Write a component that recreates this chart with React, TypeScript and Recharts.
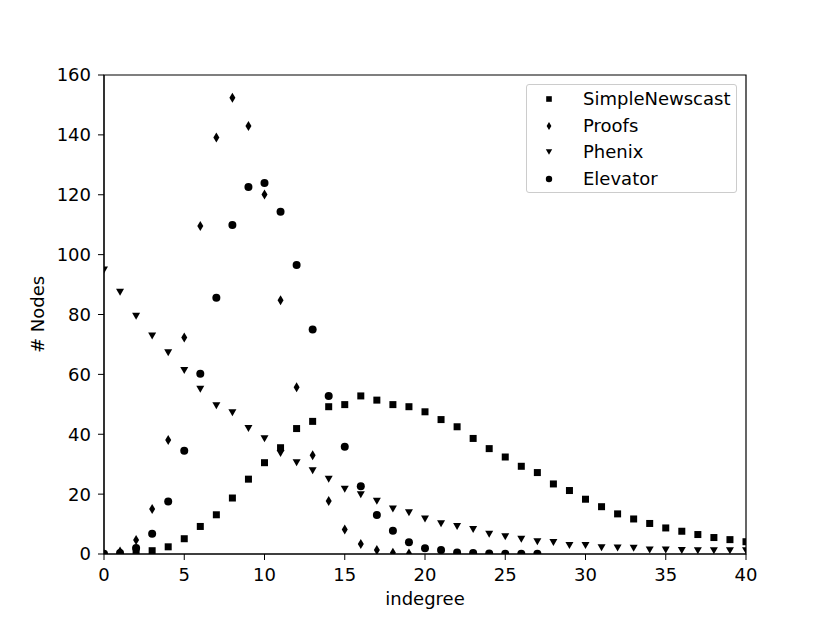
import React from 'react';
import { ScatterChart, Scatter, XAxis, YAxis, ReferenceArea } from 'recharts';

// indegree categories (x values)
const indegree = [
  0, 1, 2, 3, 4, 5, 6, 7, 8, 9, 10, 11, 12, 13, 14, 15, 16, 17, 18, 19, 20,
  21, 22, 23, 24, 25, 26, 27, 28, 29, 30, 31, 32, 33, 34, 35, 36, 37, 38, 39, 40,
];

// # Nodes per indegree, null = no point
const simpleNewscast = [
  null, null, 1.2, 1.1, 2.4, 5.1, 9.2, 13.1, 18.7, 25, 30.5, 35.5, 41.9, 44.3, 49.2, 49.9, 52.8, 51.4, 49.9, 49.2, 47.5,
  44.9, 42.5, 38.6, 35.2, 32.4, 29.3, 27.2, 23.4, 21.2, 18.3, 15.8, 13.4, 11.7, 10.2, 8.7, 7.6, 6.5, 5.5, 4.8, 4.1,
];
const proofs = [
  null, 0.8, 4.7, 15, 38.1, 72.3, 109.6, 139.1, 152.4, 143, 120.1, 84.8, 55.7, 33, 17.7, 8.2, 3.3, 1.3, 0.4, 0.2,
];
const phenix = [
  94.9, 87.4, 79.4, 72.8, 67.2, 61.3, 55, 49.5, 47.2, 41.9, 38.5, 33.6, 30.5, 27.8, 25, 21.6, 19.8, 17.6, 15, 13.8, 11.7,
  10.1, 9.2, 8.2, 6.6, 5.8, 4.9, 4.1, 3.8, 2.8, 2.8, 2.1, 2.0, 1.9, 1.3, 1.3, 1.2, 1.1, 1.1, 1.1, 1.1,
];
const elevator = [
  0.1, 0.3, 2, 6.8, 17.5, 34.5, 60.2, 85.6, 109.9, 122.6, 123.9, 114.3, 96.5, 75, 52.8, 35.8, 22.6, 13, 7.8, 3.9, 1.9,
  1.3, 0.5, 0.3, 0.2, 0.1, 0.1, 0.1,
];

const xTicks = [0, 5, 10, 15, 20, 25, 30, 35, 40];
const yTicks = [0, 20, 40, 60, 80, 100, 120, 140, 160];

const FONT = '"DejaVu Sans", sans-serif';

const toPoints = (vals: (number | null)[]) =>
  vals
    .map((y, i) => (y === null ? null : { x: indegree[i], y }))
    .filter((p): p is { x: number; y: number } => p !== null);

const Square = ({ cx, cy, s = 1 }: any) => (
  <rect x={cx - 3.5 * s} y={cy - 3.5 * s} width={7 * s} height={7 * s} fill="#000" />
);
const Diamond = ({ cx, cy, s = 1 }: any) => (
  <polygon
    points={`${cx},${cy - 5 * s} ${cx + 3 * s},${cy} ${cx},${cy + 5 * s} ${cx - 3 * s},${cy}`}
    fill="#000"
  />
);
const TriDown = ({ cx, cy, s = 1 }: any) => (
  <polygon
    points={`${cx - 4 * s},${cy - 3.5 * s} ${cx + 4 * s},${cy - 3.5 * s} ${cx},${cy + 3.5 * s}`}
    fill="#000"
  />
);
const Dot = ({ cx, cy, s = 1 }: any) => <circle cx={cx} cy={cy} r={4 * s} fill="#000" />;

const series = [
  { name: 'SimpleNewscast', values: simpleNewscast, Mark: Square },
  { name: 'Proofs', values: proofs, Mark: Diamond },
  { name: 'Phenix', values: phenix, Mark: TriDown },
  { name: 'Elevator', values: elevator, Mark: Dot },
];

export default function App() {
  return (
    <div style={{ position: 'absolute', left: 0, top: 0, width: 830, height: 623, background: '#fff', fontFamily: FONT }}>
      <ScatterChart width={830} height={623} margin={{ top: 75, right: 84, bottom: 39, left: 0 }}>
        <XAxis
          type="number"
          dataKey="x"
          domain={[0, 40]}
          ticks={xTicks}
          allowDataOverflow
          height={30}
          tickSize={6}
          tickMargin={8}
          stroke="#000"
          tick={{ fill: '#000', fontSize: 18, fontFamily: FONT }}
          label={{ value: 'indegree', position: 'bottom', offset: 8, fill: '#000', fontSize: 18, fontFamily: FONT }}
        />
        <YAxis
          type="number"
          dataKey="y"
          domain={[0, 160]}
          ticks={yTicks}
          allowDataOverflow
          width={104}
          tickSize={6}
          tickMargin={7}
          stroke="#000"
          tick={{ fill: '#000', fontSize: 18, fontFamily: FONT }}
          label={{
            value: '# Nodes',
            angle: -90,
            position: 'insideLeft',
            offset: 38,
            fill: '#000',
            fontSize: 18,
            fontFamily: FONT,
            style: { textAnchor: 'middle' },
          }}
        />
        {series.map(({ name, values, Mark }) => (
          <Scatter
            key={name}
            name={name}
            data={toPoints(values)}
            isAnimationActive={false}
            shape={(p: any) => <Mark cx={p.cx} cy={p.cy} />}
          />
        ))}
        <ReferenceArea x1={0} x2={40} y1={0} y2={160} fill="none" stroke="#000" strokeWidth={1.2} />
      </ScatterChart>
      <div
        style={{
          position: 'absolute',
          left: 526,
          top: 84,
          width: 211,
          height: 109,
          border: '1px solid #ccc',
          borderRadius: 3,
          background: 'rgba(255,255,255,0.8)',
          boxSizing: 'border-box',
          paddingTop: 1,
        }}
      >
        {series.map(({ name, Mark }) => (
          <div key={name} style={{ position: 'relative', height: 26.5, display: 'flex', alignItems: 'center' }}>
            <svg width={46} height={26} style={{ marginLeft: 0 }}>
              <Mark cx={22} cy={13} s={0.8} />
            </svg>
            <span style={{ marginLeft: 10, fontSize: 18, color: '#000', lineHeight: '26px' }}>{name}</span>
          </div>
        ))}
      </div>
    </div>
  );
}
